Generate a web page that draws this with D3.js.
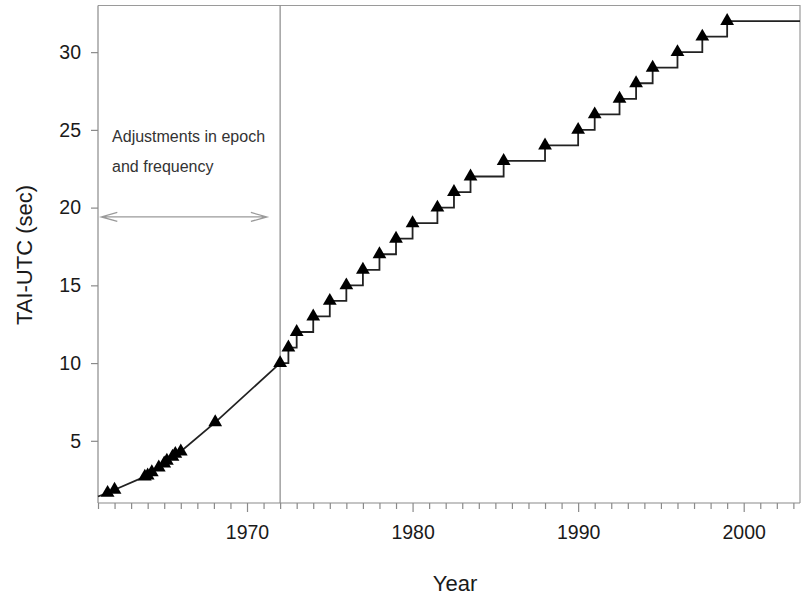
<!DOCTYPE html>
<html lang="en">
<head>
    <meta charset="UTF-8">
    <title>TAI-UTC</title>
    <script src="https://d3js.org/d3.v7.min.js"></script>
    <style>
        body { margin: 0; background: #fff; }
        svg { display: block; font-family: "Liberation Sans", Arial, sans-serif; }
    </style>
</head>
<body>
<svg width="802" height="596"></svg>
<script type="text/javascript">

    // TAI-UTC before 1972: offsets with adjustments in epoch and frequency
    var startYear   = 1961.0;
    var startOffset = 1.42;
    var epochYears   = [1961.58, 1962.0, 1963.83, 1964.0, 1964.25, 1964.67, 1965.0, 1965.16, 1965.5, 1965.67, 1966.0, 1968.08];
    var epochOffsets = [1.65, 1.85, 2.70, 2.77, 2.98, 3.28, 3.54, 3.72, 3.98, 4.16, 4.31, 6.19];

    // leap seconds from 1972 on
    var leapYears   = [1972.0, 1972.5, 1973.0, 1974.0, 1975.0, 1976.0, 1977.0, 1978.0, 1979.0, 1980.0, 1981.5, 1982.5,
                       1983.5, 1985.5, 1988.0, 1990.0, 1991.0, 1992.5, 1993.5, 1994.5, 1996.0, 1997.5, 1999.0];
    var leapOffsets = [10, 11, 12, 13, 14, 15, 16, 17, 18, 19, 20, 21, 22, 23, 24, 25, 26, 27, 28, 29, 30, 31, 32];

    var xTicks = [1970, 1980, 1990, 2000];
    var yTicks = [5, 10, 15, 20, 25, 30];

    var xDomain = [1961, 2003.4];
    var yDomain = [1, 33];
    var utcStart = 1972;   // vertical line

    var svg = d3.select("svg");
    var plotLeft = 98, plotRight = 800, plotTop = 5.5, plotBottom = 503;

    var x = d3.scaleLinear().domain(xDomain).range([plotLeft, plotRight]);
    var y = d3.scaleLinear().domain(yDomain).range([plotBottom, plotTop]);

    // frame (top + right), light gray
    svg.append("path")
        .attr("d", "M" + plotLeft + "," + plotTop + "H" + plotRight + "V" + plotBottom)
        .attr("fill", "none")
        .attr("stroke", "#9a9a9a")
        .attr("stroke-width", 1.2);

    // minor yearly ticks on x
    var minorYears = d3.range(1961, 2004).filter(function(d) { return xTicks.indexOf(d) < 0; });
    var xMinor = svg.append("g")
        .attr("transform", "translate(0," + plotBottom + ")")
        .call(d3.axisBottom(x).tickValues(minorYears).tickSize(6).tickFormat(""));
    xMinor.select(".domain").remove();

    var xAxis = svg.append("g")
        .attr("transform", "translate(0," + plotBottom + ")")
        .call(d3.axisBottom(x).tickValues(xTicks).tickSize(9).tickPadding(13).tickFormat(d3.format("d")));
    xAxis.select(".domain").attr("d", "M" + plotLeft + ",0H" + plotRight);

    var yAxis = svg.append("g")
        .attr("transform", "translate(" + plotLeft + ",0)")
        .call(d3.axisLeft(y).tickValues(yTicks).tickSize(7).tickPadding(10));
    yAxis.select(".domain").attr("d", "M0," + plotBottom + "V" + plotTop);

    svg.selectAll(".tick line, .domain")
        .attr("stroke", "#8a8a8a")
        .attr("stroke-width", 1.2);
    svg.selectAll(".tick text")
        .attr("fill", "#1a1a1a")
        .style("font-size", "19.5px")
        .style("font-family", "'Liberation Sans', Arial, sans-serif");

    // vertical line at 1972
    svg.append("line")
        .attr("x1", x(utcStart)).attr("x2", x(utcStart))
        .attr("y1", plotTop).attr("y2", plotBottom)
        .attr("stroke", "#8a8a8a")
        .attr("stroke-width", 1.2);

    // axis titles
    svg.append("text")
        .attr("x", 455).attr("y", 591)
        .attr("text-anchor", "middle")
        .attr("fill", "#1a1a1a")
        .style("font-size", "22px")
        .text("Year");

    svg.append("text")
        .attr("transform", "translate(32,255) rotate(-90)")
        .attr("text-anchor", "middle")
        .attr("fill", "#1a1a1a")
        .style("font-size", "22px")
        .text("TAI-UTC (sec)");

    // annotation with double arrow
    svg.append("text")
        .attr("x", x(1961.85)).attr("y", y(24.2))
        .attr("fill", "#333")
        .style("font-size", "16px")
        .text("Adjustments in epoch");
    svg.append("text")
        .attr("x", x(1961.85)).attr("y", y(22.3))
        .attr("fill", "#333")
        .style("font-size", "16px")
        .text("and frequency");

    var ax0 = x(1961.2), ax1 = x(1971.2), ay = y(19.4);
    svg.append("path")
        .attr("d", "M" + ax0 + "," + ay + "H" + ax1 +
                   "M" + (ax0 + 16) + "," + (ay - 4.5) + "L" + ax0 + "," + ay + "L" + (ax0 + 16) + "," + (ay + 4.5) +
                   "M" + (ax1 - 16) + "," + (ay - 4.5) + "L" + ax1 + "," + ay + "L" + (ax1 - 16) + "," + (ay + 4.5))
        .attr("fill", "none")
        .attr("stroke", "#9a9a9a")
        .attr("stroke-width", 1.3);

    // pre-1972 curve, straight segments between points
    var epochData = [[startYear, startOffset]].concat(epochYears.map(function(d, i) { return [d, epochOffsets[i]]; }));
    epochData.push([leapYears[0], leapOffsets[0]]);
    var line = d3.line()
        .x(function(d) { return x(d[0]); })
        .y(function(d) { return y(d[1]); });
    svg.append("path")
        .datum(epochData)
        .attr("d", line)
        .attr("fill", "none")
        .attr("stroke", "#222")
        .attr("stroke-width", 1.8);

    // leap second staircase
    var leapData = leapYears.map(function(d, i) { return [d, leapOffsets[i]]; });
    leapData.push([xDomain[1], leapOffsets[leapOffsets.length - 1]]);
    svg.append("path")
        .datum(leapData)
        .attr("d", line.curve(d3.curveStepAfter))
        .attr("fill", "none")
        .attr("stroke", "#222")
        .attr("stroke-width", 1.8);

    // triangle markers
    var markers = epochYears.map(function(d, i) { return [d, epochOffsets[i]]; })
        .concat(leapYears.map(function(d, i) { return [d, leapOffsets[i]]; }));
    svg.append("g").selectAll("path")
        .data(markers)
        .enter().append("path")
        .attr("transform", function(d) { return "translate(" + x(d[0]) + "," + y(d[1]) + ")"; })
        .attr("d", d3.symbol(d3.symbolTriangle).size(82))
        .attr("fill", "#000");

</script>
</body>
</html>
